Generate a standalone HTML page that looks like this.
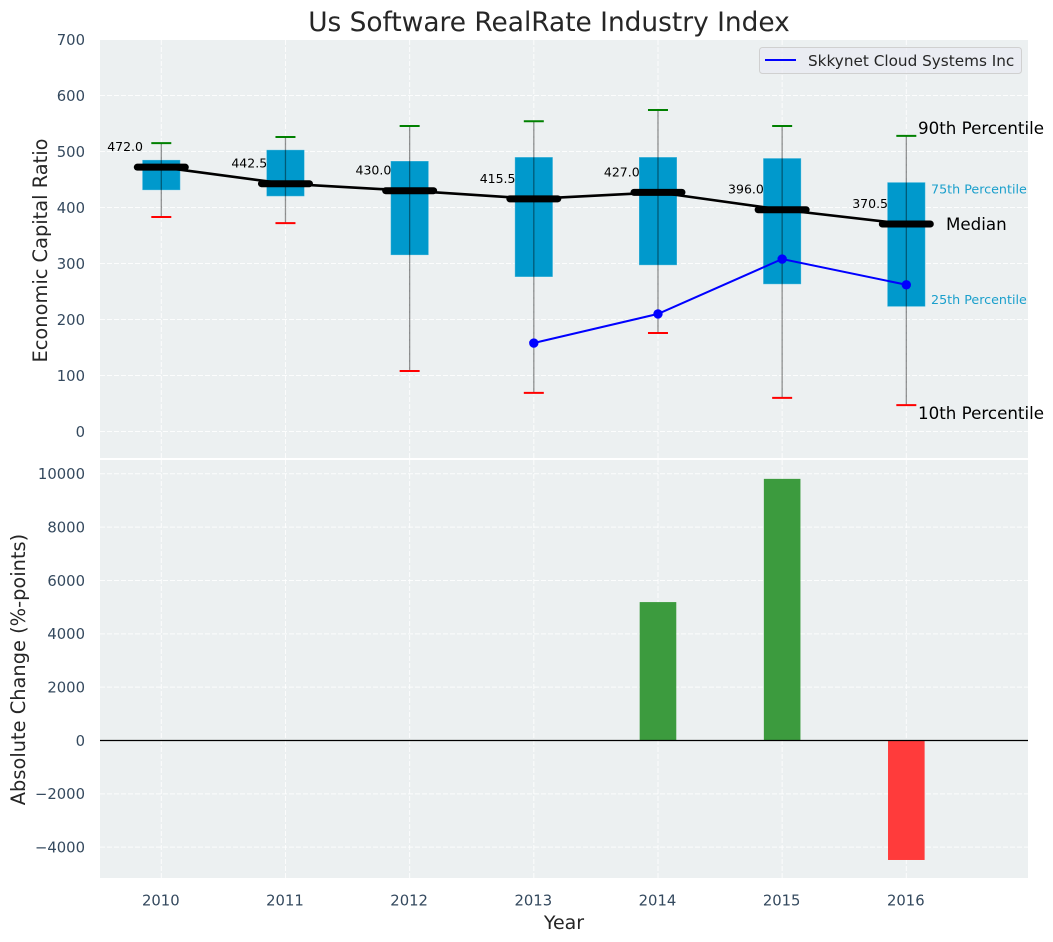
<!DOCTYPE html>
<html lang="en">
<head>
<meta charset="utf-8">
<title>Us Software RealRate Industry Index</title>
<style>
html,body{margin:0;padding:0;background:#fff;width:1053px;height:942px;overflow:hidden}
svg{display:block;font-family:"DejaVu Sans","Liberation Sans",sans-serif}
</style>
</head>
<body>
<svg id="chart" width="1053" height="942" viewBox="0 0 1053 942" xmlns="http://www.w3.org/2000/svg"></svg>
<script>
const years = [2010, 2011, 2012, 2013, 2014, 2015, 2016];
const p90 = [515, 526, 545.5, 554, 574, 545.5, 528];
const p75 = [485, 503, 483, 490, 490, 488, 445];
const medians = [472.0, 442.5, 430.0, 415.5, 427.0, 396.0, 370.5];
const p25 = [431, 420, 315, 276, 297, 263, 223];
const p10 = [383, 372, 108, 69, 176, 60, 47];
const company = [null, null, null, 158, 210, 308, 262];
const changes = [0, 0, 0, 0, 5190, 9810, -4480];
const topTicks = [0, 100, 200, 300, 400, 500, 600, 700];
const bottomTicks = [-4000, -2000, 0, 2000, 4000, 6000, 8000, 10000];

const svg = document.getElementById('chart');
const NS = 'http://www.w3.org/2000/svg';
const L = 100, R = 1028, T1 = 40, B1 = 458, T2 = 460, B2 = 878;
function x(i){ return 161.3 + i * 124.17; }
function yTop(v){ return 431.5 - v * 0.56; }
function yBottom(v){ return 740.5 - v * 0.02667; }
function add(tag, attrs, name, text){
  const el = document.createElementNS(NS, tag);
  for (const k in attrs) el.setAttribute(k, attrs[k]);
  
  
  if (text !== undefined) el.textContent = text;
  svg.appendChild(el);
  return el;
}
function label(px, py, str, size, fill, anchor, name, extra){
  return add('text', Object.assign({x:px, y:py, 'font-size':size, fill:fill, 'text-anchor':anchor}, extra||{}), name, str);
}
const TICK = '#34495e', AXIS = '#262626';
const GRID = {stroke:'#ffffff', 'stroke-width':1, 'stroke-dasharray':'5 2', 'stroke-opacity':0.85};

// panels
add('rect', {x:L, y:T1, width:R-L, height:B1-T1, fill:'#ecf0f1'}, 'top-plot-area');
add('rect', {x:L, y:T2, width:R-L, height:B2-T2, fill:'#ecf0f1'}, 'bottom-plot-area');

// grid + ticks
years.forEach(function(yr, i){
  add('line', Object.assign({x1:x(i), x2:x(i), y1:T1, y2:B1}, GRID), 'top-grid-vertical');
  add('line', Object.assign({x1:x(i), x2:x(i), y1:T2, y2:B2}, GRID), 'bottom-grid-vertical');
  label(x(i)-0.5, 905.5, String(yr), 14.8, TICK, 'middle', 'x-tick-label');
});
topTicks.forEach(function(v){
  add('line', Object.assign({x1:L, x2:R, y1:yTop(v), y2:yTop(v)}, GRID), 'top-grid-horizontal');
  label(85, yTop(v) + 5.3, String(v), 14.8, TICK, 'end', 'top-y-tick-label');
});
bottomTicks.forEach(function(v){
  add('line', Object.assign({x1:L, x2:R, y1:yBottom(v), y2:yBottom(v)}, GRID), 'bottom-grid-horizontal');
  label(85, yBottom(v) + 5.3, String(v).replace('-', '\u2212'), 14.8, TICK, 'end', 'bottom-y-tick-label');
});

// boxes
years.forEach(function(yr, i){
  add('rect', {x:x(i)-19, y:yTop(p75[i]), width:38, height:yTop(p25[i])-yTop(p75[i]), fill:'#0099cc', stroke:'#ffffff', 'stroke-opacity':0.3, 'stroke-width':1}, 'box-' + yr);
});

// whiskers
years.forEach(function(yr, i){
  add('line', {x1:x(i), x2:x(i), y1:yTop(p90[i]), y2:yTop(p10[i]), stroke:'#000000', 'stroke-opacity':0.42, 'stroke-width':1.3}, 'whisker-' + yr);
  add('line', {x1:x(i)-10, x2:x(i)+10, y1:yTop(p90[i]), y2:yTop(p90[i]), stroke:'#008000', 'stroke-width':2}, 'p90-cap-' + yr);
  add('line', {x1:x(i)-10, x2:x(i)+10, y1:yTop(p10[i]), y2:yTop(p10[i]), stroke:'#ff0000', 'stroke-width':2}, 'p10-cap-' + yr);
});

// median trend + markers
add('polyline', {points:medians.map(function(v, i){ return x(i) + ',' + yTop(v); }).join(' '), fill:'none', stroke:'#000000', 'stroke-width':2.6}, 'median-line');
years.forEach(function(yr, i){
  add('line', {x1:x(i)-24, x2:x(i)+24, y1:yTop(medians[i]), y2:yTop(medians[i]), stroke:'#000000', 'stroke-width':7, 'stroke-linecap':'round'}, 'median-marker-' + yr);
  label(x(i)-18.3, yTop(medians[i]) - 16, medians[i].toFixed(1), 12.5, '#000000', 'end', 'median-value-' + yr);
});

// company series
const pts = [];
company.forEach(function(v, i){ if (v !== null) pts.push([x(i), yTop(v)]); });
add('polyline', {points:pts.map(function(p){ return p.join(','); }).join(' '), fill:'none', stroke:'#0000ff', 'stroke-width':2}, 'company-line');
pts.forEach(function(p){
  add('circle', {cx:p[0], cy:p[1], r:4.7, fill:'#0000ff'}, 'company-point');
});

// annotations anchored on last category
const last = years.length - 1;
label(x(last)+11.7, yTop(p90[last]) - 2, '90th Percentile', 16.7, '#000000', 'start', 'annotation-90th-percentile');
label(x(last)+24.7, yTop(p75[last]) + 11, '75th Percentile', 12.7, '#1a9fcc', 'start', 'annotation-75th-percentile');
label(x(last)+39.7, yTop(medians[last]) + 6, 'Median', 16.7, '#000000', 'start', 'annotation-median');
label(x(last)+24.7, yTop(p25[last]) - 2.5, '25th Percentile', 12.7, '#1a9fcc', 'start', 'annotation-25th-percentile');
label(x(last)+11.7, yTop(p10[last]) + 14, '10th Percentile', 16.7, '#000000', 'start', 'annotation-10th-percentile');

// legend
add('rect', {x:759.5, y:47.5, width:262, height:26, rx:3, fill:'#eaeaf2', 'fill-opacity':0.7, stroke:'#d0d0d0', 'stroke-width':1}, 'legend-box');
add('line', {x1:765, x2:796, y1:60, y2:60, stroke:'#0000ff', 'stroke-width':2}, 'legend-line');
label(808, 66, 'Skkynet Cloud Systems Inc', 15.25, AXIS, 'start', 'legend-label');

// bars
changes.forEach(function(v, i){
  if (v === 0) return;
  const y0 = yBottom(Math.max(v, 0)), y1 = yBottom(Math.min(v, 0));
  add('rect', {x:x(i)-18.3, y:y0, width:36.6, height:y1-y0, fill:v > 0 ? '#3c9b3e' : '#ff3b3b'}, 'change-bar-' + years[i]);
});
add('line', {x1:L, x2:R, y1:yBottom(0), y2:yBottom(0), stroke:'#000000', 'stroke-width':1.2}, 'zero-line');

// titles
label(549, 31, 'Us Software RealRate Industry Index', 26.4, AXIS, 'middle', 'chart-title');
label(564, 929, 'Year', 19, AXIS, 'middle', 'x-axis-title');
label(0, 0, 'Economic Capital Ratio', 19.4, AXIS, 'middle', 'top-y-axis-title', {transform:'translate(47,250.5) rotate(-90)'});
label(0, 0, 'Absolute Change (%-points)', 19.4, AXIS, 'middle', 'bottom-y-axis-title', {transform:'translate(25,669.5) rotate(-90)'});
</script>
</body>
</html>
